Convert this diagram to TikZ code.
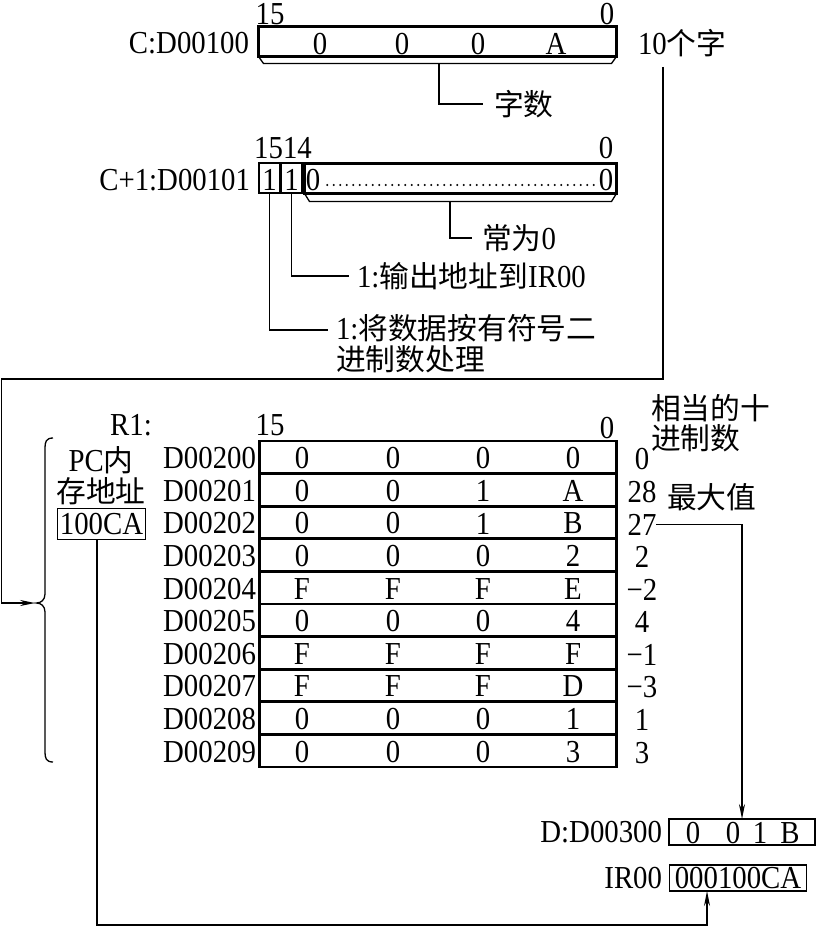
\documentclass[tikz,border=0pt]{standalone}
\usepackage{fontspec}
\setmainfont[FakeStretch=0.9]{Liberation Serif}
\newfontfamily\cjk[Scale=0.93]{Noto Sans CJK SC}
\usetikzlibrary{arrows.meta,calc}
\begin{document}
\begin{tikzpicture}[x=1pt,y=-1pt,
  every node/.style={inner sep=0pt, outer sep=0pt, font=\fontsize{32}{36}\selectfont},
  conn/.style={line width=1.3pt},
  bx/.style={draw, line width=2.8pt},
  cellbx/.style={draw, line width=2pt},
  tb/.style={draw, line width=1.3pt},
  arr/.style={-{Stealth[length=15pt,width=6pt]}},
]
\useasboundingbox (0,0) rectangle (818,928);

% ---------- C:D00100 ----------
\node[bx, minimum width=358pt, minimum height=30pt] (cbox) at (437.5,41.5) {};
\draw[conn] (cbox.south west) -- ++(5,7) -- ($(cbox.south east)+(-5,7)$) -- (cbox.south east);
\node (c15) at (270,14.5) {15};
\node (c0) at (607,14.5) {0};
\node[anchor=east] (clab) at (249,43) {C:D00100};
\node (cv1) at (320,44) {0};
\node (cv2) at (402,44) {0};
\node (cv3) at (478,44) {0};
\node (cv4) at (556,44) {A};
\node[anchor=west] (ten) at (638,43) {10{\cjk 个字}};
\coordinate (zs) at (439,63.5);
\node[anchor=west] (zishu) at (494,104) {\cjk 字数};
\draw[conn] (zs) |- ($(zishu.west)+(-11,0)$);

% ---------- C+1:D00101 ----------
\node[anchor=east] (c1lab) at (250,180) {C+1:D00101};
\node[cellbx, minimum width=21pt, minimum height=30pt] (cell1) at (269.5,178) {};
\node[cellbx, minimum width=21pt, minimum height=30pt] (cell2) at (291.5,178) {};
\node[bx, minimum width=312pt, minimum height=30pt] (big) at (460.5,178.5) {};
\node (b1t) at (269.5,180) {1};
\node (b2t) at (291.5,180) {1};
\node (bz1) at (313,180) {0};
\node (bz2) at (606,180) {0};
\draw[line width=2.4pt, line cap=round, dash pattern=on 0pt off 6.5pt] (bz1.east) ++(7,5) coordinate (dotA) -- ($(bz2.west)+(-4,5)$) coordinate (dotB);
\node (n1514) at (283,148) {1514};
\node (n0b) at (606,148) {0};
\draw[conn] (big.south west) -- ++(5,8) -- ($(big.south east)+(-5,8)$) -- (big.south east);

\coordinate (cw) at (450,201.5);
\node[anchor=west] (changwei) at (482,238) {{\cjk 常为}0};
\draw[conn] (cw) |- ($(changwei.west)+(-10,0)$);

\node[anchor=west] (shuchu) at (357,276) {1:{\cjk 输出地址到}IR00};
\draw[conn] (cell2.south) |- ($(shuchu.west)+(-8,0)$);

\node[anchor=north west, align=left, font=\fontsize{32}{31}\selectfont] (jiang) at (336,314) {1:{\cjk 将数据按有符号二}\\{\cjk 进制数处理}};
\draw[conn] (cell1.south) |- ($(jiang.north west)+(-8,16)$);

% ---------- long connector into brace ----------
\coordinate (tl) at (663,67);
\coordinate (brtip) at (35,603);
\draw[conn, arr] (tl) -- (663,379) -- (1.5,379) -- (1.5,603) -- (brtip);

% brace
\draw[conn] (53,438) .. controls (46,438) and (45,442) .. (45,448) -- (45,594)
  .. controls (45,600) and (41,603) .. (36.5,603)
  .. controls (41,603) and (45,606) .. (45,612) -- (45,752)
  .. controls (45,758) and (46,762) .. (53,762);

% ---------- table ----------
\node (r1lab) at (131,425) {R1:};
\node (t15) at (270,425) {15};
\node (t0) at (607,428) {0};
\node[anchor=north west, align=left, font=\fontsize{32}{30}\selectfont] (xd) at (651,394) {\cjk 相当的十\\\cjk 进制数};
\node[anchor=west] (zdz) at (667,497) {\cjk 最大值};

\foreach \lab/\a/\b/\c/\d/\v [count=\i from 0] in
  {D00200/0/0/0/0/0, D00201/0/0/1/A/28, D00202/0/0/1/B/27, D00203/0/0/0/2/2,
   D00204/F/F/F/E/−2, D00205/0/0/0/4/4, D00206/F/F/F/F/−1, D00207/F/F/F/D/−3,
   D00208/0/0/0/1/1, D00209/0/0/0/3/3}{
  \pgfmathsetmacro\yc{457.3+32.6*\i}
  \node[bx, minimum width=357pt, minimum height=32.6pt] (row\i) at (438,\yc) {};
  \node[anchor=east] (lab\i) at (256,\yc+1) {\lab};
  \node (va\i) at (302,\yc+1) {\a};
  \node (vb\i) at (393,\yc+1) {\b};
  \node (vc\i) at (483,\yc+1) {\c};
  \node (vd\i) at (573,\yc+1) {\d};
  \node (dec\i) at (642,\yc+2) {\v};
}

% PC memory address
\node[align=center, font=\fontsize{32}{31}\selectfont] (pc) at (101,476) {PC{\cjk 内}\\{\cjk 存地址}};
\node[tb, minimum width=88pt, minimum height=31pt] (pcbox) at (101.5,524) {100CA};

% result boxes
\node[tb, minimum width=146pt, minimum height=26pt] (dbox) at (742,832) {};
\draw[line width=2.6pt] (dbox.north east) -- (dbox.south east) -- (dbox.south west);
\node (dv1) at (693,833) {0};
\node (dv2) at (733,833) {0};
\node (dv3) at (760,833) {1};
\node (dv4) at (790,833) {B};
\node[anchor=east] (dlab) at (662,832) {D:D00300};

\node[tb, minimum width=137pt, minimum height=26pt] (irbox) at (738,878) {000100CA};
\node[anchor=east] (irlab) at (662,878) {IR00};

% connectors
\draw[conn, arr] (dec2.east) -| (dbox.north);
\coordinate (bl) at (97,925);
\draw[conn, arr] (pcbox.south -| bl) -- (bl) -| ($(irbox.south)+(-31,0)$);
\end{tikzpicture}
\end{document}
